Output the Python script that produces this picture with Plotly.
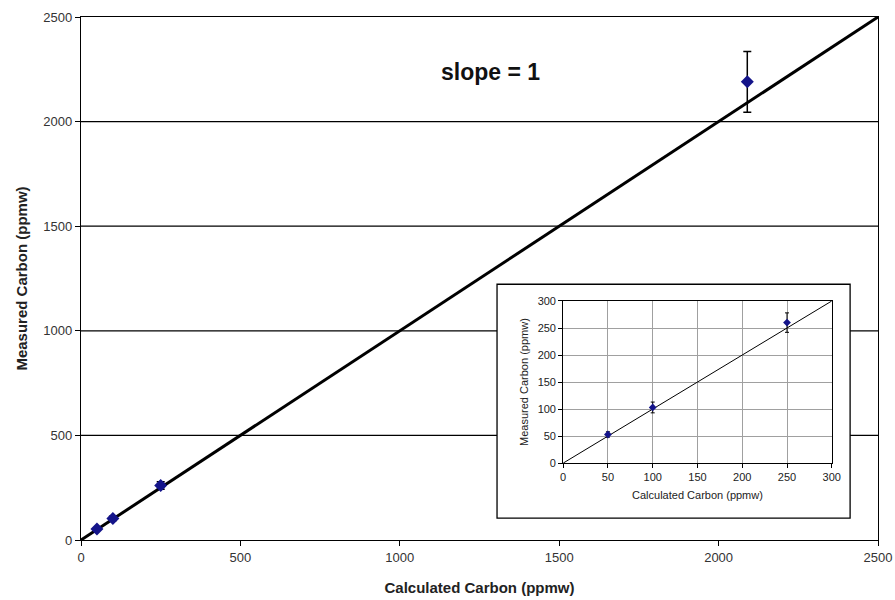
import plotly.graph_objects as go

# Data
calc_main = [50, 100, 250, 2090]
meas_main = [53, 103, 260, 2190]
err_main = [5, 10, 18, 145]

calc_inset = [50, 100, 250]
meas_inset = [53, 103, 260]
err_inset = [5, 10, 18]

line_main = [0, 2500]
line_inset = [0, 300]

main_ticks = [0, 500, 1000, 1500, 2000, 2500]
main_grid = [500, 1000, 1500, 2000]
inset_ticks = [0, 50, 100, 150, 200, 250, 300]

FONT = "Liberation Sans, Arial, sans-serif"
PT_COLOR = "#14148a"

fig = go.Figure()

# Main
fig.add_trace(go.Scatter(x=line_main, y=line_main, mode="lines",
                         line=dict(color="black", width=3), xaxis="x", yaxis="y",
                         showlegend=False, hoverinfo="skip"))
fig.add_trace(go.Scatter(x=calc_main, y=meas_main, mode="markers",
                         marker=dict(symbol="diamond", size=10, color=PT_COLOR),
                         error_y=dict(type="data", array=err_main, color="black",
                                      thickness=1.5, width=4),
                         xaxis="x", yaxis="y", showlegend=False))

# Inset
fig.add_trace(go.Scatter(x=line_inset, y=line_inset, mode="lines",
                         line=dict(color="black", width=1), xaxis="x2", yaxis="y2",
                         showlegend=False, hoverinfo="skip"))
fig.add_trace(go.Scatter(x=calc_inset, y=meas_inset, mode="markers",
                         marker=dict(symbol="diamond", size=6, color=PT_COLOR),
                         error_y=dict(type="data", array=err_inset, color="black",
                                      thickness=1, width=2),
                         xaxis="x2", yaxis="y2", showlegend=False))

shapes = []
for g in main_grid:
    shapes.append(dict(type="line", xref="paper", yref="y", x0=0, x1=1, y0=g, y1=g,
                       line=dict(color="black", width=1.3), layer="below"))
# inset white box
shapes.append(dict(type="rect", xref="paper", yref="paper", x0=0.522, x1=0.965,
                   y0=0.042, y1=0.489, fillcolor="white",
                   line=dict(color="black", width=1.3), layer="below"))

fig.update_layout(
    width=895, height=600,
    margin=dict(l=81, r=17, t=17, b=60),
    paper_bgcolor="white", plot_bgcolor="rgba(0,0,0,0)",
    font=dict(family=FONT, color="#222"),
    shapes=shapes,
    xaxis=dict(range=[0, 2500], tickvals=main_ticks, showgrid=False, zeroline=False,
               automargin=False,
               showline=True, linecolor="black", linewidth=1.3, mirror=True,
               ticks="outside", ticklen=5, tickcolor="black",
               tickfont=dict(size=13, color="#333", family=FONT),
               title=dict(text="<b>Calculated Carbon (ppmw)</b>", standoff=18,
                          font=dict(size=15, color="#222", family=FONT))),
    yaxis=dict(range=[0, 2500], tickvals=main_ticks, showgrid=False, zeroline=False,
               automargin=False,
               showline=True, linecolor="black", linewidth=1.3, mirror=True,
               ticks="outside", ticklen=5, tickcolor="black",
               tickfont=dict(size=13, color="#333", family=FONT),
               title=dict(text="<b>Measured Carbon (ppmw)</b>", standoff=12,
                          font=dict(size=15, color="#222", family=FONT))),
    xaxis2=dict(domain=[0.605, 0.942], anchor="y2", range=[0, 300], tickvals=inset_ticks,
                automargin=False,
                showgrid=True, gridcolor="#a0a0a0", gridwidth=1, zeroline=False,
                showline=True, linecolor="black", linewidth=1, mirror=True,
                ticks="outside", ticklen=4, tickcolor="black",
                tickfont=dict(size=11, color="#222", family=FONT),
                title=dict(text="Calculated Carbon (ppmw)", standoff=8,
                           font=dict(size=11, color="#222", family=FONT))),
    yaxis2=dict(domain=[0.147, 0.457], anchor="x2", range=[0, 300], tickvals=inset_ticks,
                automargin=False,
                showgrid=True, gridcolor="#a0a0a0", gridwidth=1, zeroline=False,
                showline=True, linecolor="black", linewidth=1, mirror=True,
                ticks="outside", ticklen=4, tickcolor="black",
                tickfont=dict(size=11, color="#222", family=FONT),
                title=dict(text="Measured Carbon (ppmw)", standoff=6,
                           font=dict(size=11, color="#222", family=FONT))),
    annotations=[dict(text="<b>slope = 1</b>", xref="paper", yref="paper",
                      x=0.514, y=0.924, showarrow=False,
                      font=dict(size=23, color="#111", family=FONT))],
)

fig.write_html("out.html",
               config={"displayModeBar": False},
               post_script="document.body.style.margin='0';document.body.style.overflow='hidden';")
